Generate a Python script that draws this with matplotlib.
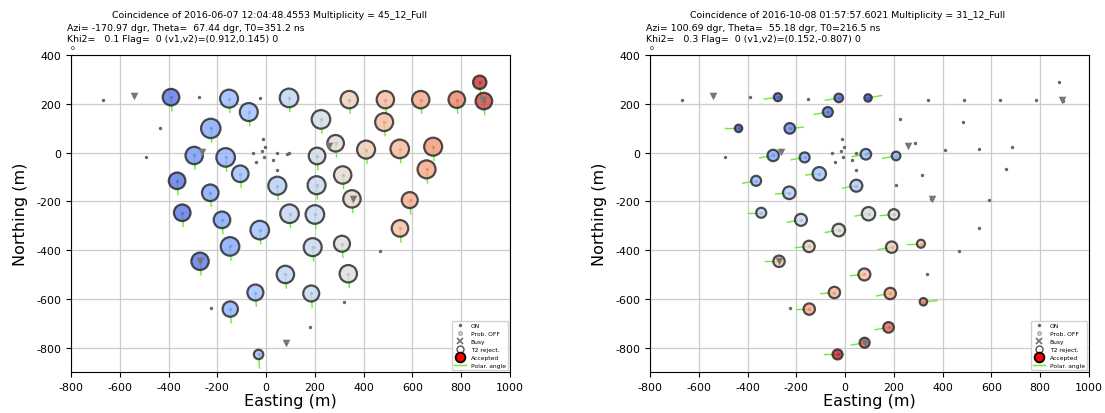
import numpy as np
import matplotlib
matplotlib.use('Agg')
import matplotlib.pyplot as plt
from matplotlib.lines import Line2D

plt.rcParams['axes.unicode_minus'] = False

# station layout (m), ids are 1-based positions in these lists
station_x = [-668, -540, -390, -276, -152, -26, 94, 341, 489, 634, 782, 876, 893,
             -71, 225, -437, -227, 484, -14, -4, -53, -18, -8, -41, 30, 46, 85, 92, 44,
             -494, -295, -166, -106, 46, 209, 285, 207, 314, 410, 548, 685, 658,
             -365, -229, -344, -181, -26, 96, 200, 352, 589, 549, -148, 191, 311, 466,
             -271, 79, 337, -44, 185, 321, -227, -147, 178, 80, -31]
station_y = [216, 231, 227, 227, 221, 224, 224, 217, 217, 217, 217, 288, 211,
             166, 136, 99, 99, 125, 54, 24, 0, 7, -18, -40, -29, -3, -7, 0, -71,
             -20, -12, -20, -87, -136, -14, 38, -134, -92, 12, 15, 24, -69,
             -116, -165, -247, -276, -318, -251, -254, -190, -195, -311, -385, -388, -374, -404,
             -446, -500, -497, -574, -578, -612, -639, -642, -717, -780, -828]

# grey triangles
tri_x = [-540, -262, 257, 355, 890, -271, 80]
tri_y = [231, 3, 27, -190, 214, -445, -780]

# event 1
left_ids = [3, 5, 7, 8, 9, 10, 11, 12, 13, 14, 15, 17, 18, 31, 32, 33, 34, 35, 36, 37,
            38, 39, 40, 41, 42, 43, 44, 45, 46, 47, 48, 49, 50, 51, 52, 53, 54, 55, 57,
            58, 59, 60, 61, 64, 67]
left_time = [.10, .28, .40, .58, .66, .72, .80, .95, .92, .30, .47, .22, .66, .18, .26,
             .30, .37, .45, .52, .42, .52, .60, .67, .75, .72, .10, .22, .10, .22, .30,
             .40, .42, .55, .70, .65, .22, .43, .50, .10, .40, .50, .30, .42, .25, .30]
left_rad = [8.3, 9, 9.3, 8.7, 8.7, 8.7, 8.3, 6.7, 8.3, 9, 9.3, 9.7, 9, 8.7, 9.3, 8.3, 9,
            8.3, 8.3, 9, 8.7, 9, 9.3, 9, 9, 8.3, 8.3, 8.3, 8.3, 9.3, 9.3, 9.3, 8.7, 8,
            8.3, 9.3, 9, 8, 8.7, 8.7, 8.7, 8, 8, 7.7, 4.7]
left_ang = -86

# event 2
right_ids = [4, 6, 7, 14, 16, 17, 27, 31, 32, 33, 34, 35, 43, 44, 45, 46, 47, 48, 49,
             53, 54, 55, 57, 58, 60, 61, 62, 64, 65, 66, 67]
right_time = [.05, .08, .03, .10, .05, .15, .30, .22, .25, .32, .35, .28, .28, .37, .38,
              .45, .52, .48, .50, .56, .60, .63, .60, .65, .68, .70, .78, .72, .85, .90, .97]
right_rad = [4, 4.3, 3.7, 5, 3.7, 5.3, 5.3, 5.7, 5, 6.7, 6, 4.3, 5, 6.3, 5, 6, 6.3, 6.7,
             5.3, 5.7, 5.7, 4, 5.7, 6, 5.7, 5.7, 3.7, 5.7, 5.3, 5, 5]
right_ang = [188, 190, 10, 190, 180, 5, 190, 190, 190, 185, 190, 190, 190, 185, 180, 190,
             190, 190, 185, 185, 190, 180, 180, 185, 185, 190, 5, 180, 190, 190, 180]

titles = ['Coincidence of 2016-06-07 12:04:48.4553 Multiplicity = 45_12_Full',
          'Coincidence of 2016-10-08 01:57:57.6021 Multiplicity = 31_12_Full']
infos = ['Azi= -170.97 dgr, Theta=  67.44 dgr, T0=351.2 ns\nKhi2=   0.1 Flag=  0 (v1,v2)=(0.912,0.145) 0',
         'Azi= 100.69 dgr, Theta=  55.18 dgr, T0=216.5 ns\nKhi2=   0.3 Flag=  0 (v1,v2)=(0.152,-0.807) 0']

line_len = 56
cmap = plt.get_cmap('coolwarm')
sx = np.array(station_x)
sy = np.array(station_y)

fig = plt.figure(figsize=(11.05, 4.14), dpi=100)
axes_left = [70 / 1105, 649 / 1105]


def draw_event(ax, ids, times, rads, angs):
    idx = np.array(ids) - 1
    angs = np.broadcast_to(np.radians(angs), idx.shape)
    for i, a in zip(idx, angs):
        ax.plot([sx[i], sx[i] + line_len * np.cos(a)], [sy[i], sy[i] + line_len * np.sin(a)],
                color='#66ee33', lw=1.0, zorder=2)
    ax.scatter(sx, sy, s=6, color='#666666', zorder=3, linewidths=0)
    sizes = (2 * np.array(rads) * 0.72) ** 2
    ax.scatter(sx[idx], sy[idx], s=sizes, c=cmap(np.array(times)), alpha=0.8,
               edgecolors='#222222', linewidths=1.6, zorder=4)
    ax.scatter(tri_x, tri_y, marker='v', s=30, color='#777777', linewidths=0, zorder=5)


events = [(left_ids, left_time, left_rad, left_ang),
          (right_ids, right_time, right_rad, right_ang)]

for k, (ids, times, rads, angs) in enumerate(events):
    ax = fig.add_axes([axes_left[k], 41 / 414, 441 / 1105, 317 / 414])
    draw_event(ax, ids, times, rads, angs)
    ax.set_xlim(-800, 1000)
    ax.set_ylim(-900, 400)
    ax.set_aspect('equal', adjustable='box')
    ax.set_xticks(np.arange(-800, 1001, 200))
    ax.set_yticks(np.arange(-800, 401, 200))
    ax.tick_params(labelsize=7.9)
    ax.grid(True, color='#cccccc', lw=0.9)
    ax.set_axisbelow(True)
    ax.set_xlabel('Easting (m)', fontsize=11.5, labelpad=1)
    ax.set_ylabel('Northing (m)', fontsize=11.5, labelpad=6)

    handles = [Line2D([], [], ls='', marker='.', color='#666666', ms=3),
               Line2D([], [], ls='', marker='o', mfc='#dddddd', mec='#aaaaaa', ms=2.5),
               Line2D([], [], ls='', marker='x', color='#777777', ms=4, mew=1.3),
               Line2D([], [], ls='', marker='o', mfc='none', mec='#555555', ms=5),
               Line2D([], [], ls='', marker='o', mfc='red', mec='black', ms=7, mew=1.3),
               Line2D([], [], color='#66ee33', lw=1)]
    ax.legend(handles, ['ON', 'Prob. OFF', 'Busy', 'T2 reject.', 'Accepted', 'Polar. angle'],
              loc='lower right', fontsize=4.3, borderaxespad=0.3, handlelength=2,
              labelspacing=0.45, framealpha=0.9)

    x0 = axes_left[k] * 1105
    fig.text((x0 + 199) / 1105, 1 - 15 / 414, titles[k], fontsize=6.75, ha='center', va='center')
    fig.text((x0 - 3) / 1105, 1 - 34 / 414, infos[k], fontsize=6.75, ha='left', va='center',
             linespacing=1.25)
    fig.text((x0 + 1) / 1105, 1 - 49 / 414, '0', fontsize=4.5, ha='left', va='center')

fig.savefig('out.png', dpi=100)
